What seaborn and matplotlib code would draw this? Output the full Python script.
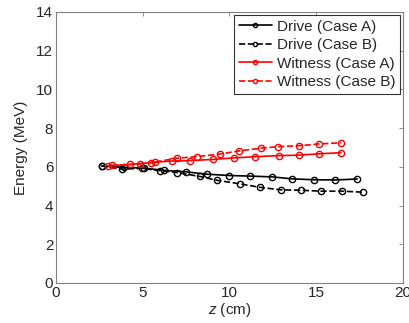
import matplotlib
matplotlib.use("Agg")
import matplotlib.pyplot as plt
import seaborn as sns

# values
drive_a_z = [2.63, 3.9, 5.07, 6.2, 7.5, 8.68, 10.0, 11.2, 12.47, 13.58, 14.9, 16.1, 17.37]
drive_a_e = [6.04, 5.97, 5.93, 5.82, 5.74, 5.62, 5.55, 5.52, 5.48, 5.38, 5.33, 5.32, 5.37]

drive_b_z = [2.63, 3.78, 4.94, 6.0, 7.0, 8.3, 9.3, 10.6, 11.76, 12.95, 14.1, 15.3, 16.5, 17.7]
drive_b_e = [6.04, 5.88, 5.92, 5.8, 5.7, 5.5, 5.3, 5.12, 4.94, 4.81, 4.79, 4.74, 4.74, 4.69]

witness_a_z = [3.0, 4.27, 5.5, 6.67, 7.72, 9.03, 10.26, 11.45, 12.87, 14.0, 15.15, 16.42]
witness_a_e = [6.05, 6.12, 6.22, 6.3, 6.32, 6.38, 6.46, 6.52, 6.58, 6.6, 6.67, 6.73]

witness_b_z = [3.2, 4.84, 5.7, 6.95, 8.14, 9.45, 10.55, 11.8, 12.8, 14.0, 15.16, 16.42]
witness_b_e = [6.07, 6.15, 6.25, 6.44, 6.53, 6.66, 6.82, 6.96, 7.04, 7.09, 7.18, 7.24]

sns.set_style("white")
plt.rcParams["font.family"] = ["Liberation Sans", "DejaVu Sans"]
plt.rcParams["mathtext.fontset"] = "custom"
plt.rcParams["mathtext.it"] = "Liberation Sans:italic"
plt.rcParams["mathtext.rm"] = "Liberation Sans"

fig = plt.figure(figsize=(4.09, 3.23), dpi=100)
ax = fig.add_axes([0.137, 0.124, 0.848, 0.839])

series = [
    (drive_a_z, drive_a_e, "black", "-", "Drive (Case A)"),
    (drive_b_z, drive_b_e, "black", "--", "Drive (Case B)"),
    (witness_a_z, witness_a_e, "red", "-", "Witness (Case A)"),
    (witness_b_z, witness_b_e, "red", "--", "Witness (Case B)"),
]
for z, e, c, ls, lab in series:
    sns.lineplot(x=z, y=e, ax=ax, color=c, linestyle=ls, marker="o",
                 markersize=4.5, markerfacecolor="none", markeredgecolor=c,
                 markeredgewidth=1.0, linewidth=1.2, sort=False, label=lab)

ax.set_xlim(0, 20)
ax.set_ylim(0, 14)
ax.set_xticks([0, 5, 10, 15, 20])
ax.set_yticks(range(0, 15, 2))
ax.tick_params(direction="in", length=3, width=0.6, color="#808080",
               labelsize=11, top=True, right=True, pad=2)
for s in ax.spines.values():
    s.set_color("#808080")
    s.set_linewidth(0.8)
ax.set_xlabel("$z$ (cm)", fontsize=11, labelpad=1)
ax.set_ylabel("Energy (MeV)", fontsize=11, labelpad=6)

leg = ax.legend(loc="upper right", fontsize=11, frameon=True, fancybox=False,
                edgecolor="black", borderaxespad=0.2, handlelength=2.2,
                labelspacing=0.3, borderpad=0.3, handletextpad=0.3)
leg.get_frame().set_linewidth(0.8)
for h in leg.legend_handles:
    h.set_markersize(3)

fig.savefig("out.png", dpi=100)
